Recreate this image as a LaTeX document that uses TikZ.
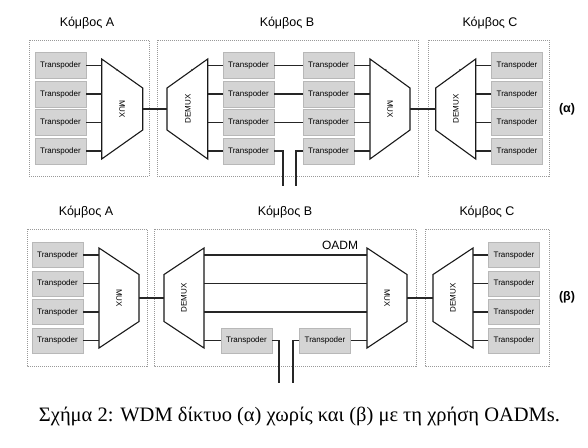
\documentclass[tikz,border=0pt]{standalone}
\usepackage{fontspec}
\setmainfont{Liberation Sans}
\newfontfamily\capfont{Liberation Serif}
\begin{document}
\begin{tikzpicture}[x=1pt,y=-1pt,
  tp/.style={draw=black!28, fill=black!17, line width=0.6pt, minimum width=51pt, minimum height=26pt, inner sep=0pt, font=\fontsize{8}{9}\selectfont},
  tpb/.style={tp, minimum height=25pt},
  nodebox/.style={draw=black!40, line width=0.5pt, dash pattern=on 1pt off 1pt},
  wire/.style={line width=1.3pt, black!85},
  trap/.style={line width=1.1pt, black!90},
  ttl/.style={font=\fontsize{12.5}{14}\selectfont},
  lbl/.style={font=\fontsize{8}{9}\selectfont},
  tick/.style={fill=black!80, radius=1pt},
]
\useasboundingbox (0,0) rectangle (588,447);

% ================= panel (alpha) =================
\draw[nodebox] (29,40) rectangle (149,176);
\draw[nodebox] (157,40) rectangle (418,176);
\draw[nodebox] (428,40) rectangle (549,176);
\node[ttl] (tA) at (87,23) {Κόμβος A};
\node[ttl] (tB) at (287,23) {Κόμβος B};
\node[ttl] (tC) at (490,23) {Κόμβος C};
\node[font=\bfseries\fontsize{12.5}{14}\selectfont] (alpha) at (567,109) {(α)};

% transponders
\foreach \i/\y in {1/65.5,2/94,3/122.5,4/151}{
  \node[tp] (a\i) at (60.5,\y) {Transpoder};
  \node[tp] (b\i) at (248.5,\y) {Transpoder};
  \node[tp] (c\i) at (328.5,\y) {Transpoder};
  \node[tp] (d\i) at (517,\y) {Transpoder};
}

% MUX A
\draw[trap] (101.7,59) -- (142.7,88) -- (142.7,130) -- (101.7,159) -- cycle;
\coordinate (muxA-l) at (101.7,109); \coordinate (muxA-r) at (142.7,109);
\node[lbl, rotate=-90] (muxAt) at (122,109) {MUX};
\fill[tick] (117,69.8) circle;
% DEMUX B
\draw[trap] (167,88) -- (207.7,59) -- (207.7,159) -- (167,130) -- cycle;
\coordinate (demB-l) at (167,109); \coordinate (demB-r) at (207.7,109);
\node[lbl, rotate=90] (demBt) at (188,109) {DEMUX};
\fill[tick] (192,69.8) circle;
% MUX B
\draw[trap] (370,59) -- (410,88) -- (410,130) -- (370,159) -- cycle;
\coordinate (muxB-l) at (370,109); \coordinate (muxB-r) at (410,109);
\node[lbl, rotate=-90] (muxBt) at (390,109) {MUX};
\fill[tick] (385.7,69.8) circle;
% DEMUX C
\draw[trap] (435.7,88) -- (475.7,59) -- (475.7,159) -- (435.7,130) -- cycle;
\coordinate (demC-l) at (435.7,109); \coordinate (demC-r) at (475.7,109);
\node[lbl, rotate=90] (demCt) at (456,109) {DEMUX};
\fill[tick] (460,69.8) circle;

% wires
\foreach \i in {1,2,3,4}{
  \draw[wire] (a\i.east) -- (a\i.east -| muxA-l);
  \draw[wire] (b\i.west) -- (b\i.west -| demB-r);
  \draw[wire] (c\i.east) -- (c\i.east -| muxB-l);
  \draw[wire] (d\i.west) -- (d\i.west -| demC-r);
}
\foreach \i in {1,2,3}{
  \draw[wire] (b\i.east) -- (c\i.west);
}
\draw[wire] (muxA-r) -- (demB-l);
\draw[wire] (muxB-r) -- (demC-l);
\coordinate (fa1) at (283,186);
\coordinate (fa2) at (296,186);
\draw[wire] (b4.east) -| (fa1);
\draw[wire] (c4.west) -| (fa2);

% ================= panel (beta) =================
\draw[nodebox] (27,229) rectangle (147,366);
\draw[nodebox] (154,229) rectangle (416,366);
\draw[nodebox] (425,229) rectangle (549,366);
\node[ttl] (uA) at (86,212) {Κόμβος A};
\node[ttl] (uB) at (285,212) {Κόμβος B};
\node[ttl] (uC) at (487,212) {Κόμβος C};
\node[font=\bfseries\fontsize{12.5}{14}\selectfont] (beta) at (567,297) {(β)};
\node[font=\fontsize{12}{14}\selectfont] (oadm) at (340,245) {OADM};

\foreach \i/\y in {1/255,2/283.5,3/312,4/340.5}{
  \node[tpb] (e\i) at (57.5,\y) {Transpoder};
  \node[tpb] (h\i) at (514,\y) {Transpoder};
}
\node[tpb] (f4) at (246.5,340.5) {Transpoder};
\node[tpb] (g4) at (325,340.5) {Transpoder};

% MUX A
\draw[trap] (99,248) -- (139,274.5) -- (139,321.5) -- (99,348) -- cycle;
\coordinate (muxE-l) at (99,298); \coordinate (muxE-r) at (139,298);
\node[lbl, rotate=-90] (muxEt) at (119,298) {MUX};
% DEMUX B
\draw[trap] (164,274.5) -- (204,248) -- (204,348) -- (164,321.5) -- cycle;
\coordinate (demF-l) at (164,298); \coordinate (demF-r) at (204,298);
\node[lbl, rotate=90] (demFt) at (184,298) {DEMUX};
% MUX B
\draw[trap] (367,248) -- (407,274.5) -- (407,321.5) -- (367,348) -- cycle;
\coordinate (muxG-l) at (367,298); \coordinate (muxG-r) at (407,298);
\node[lbl, rotate=-90] (muxGt) at (387,298) {MUX};
% DEMUX C
\draw[trap] (433,274.5) -- (473,248) -- (473,348) -- (433,321.5) -- cycle;
\coordinate (demH-l) at (433,298); \coordinate (demH-r) at (473,298);
\node[lbl, rotate=90] (demHt) at (453,298) {DEMUX};

\foreach \i in {1,2,3,4}{
  \draw[wire] (e\i.east) -- (e\i.east -| muxE-l);
  \draw[wire] (h\i.west) -- (h\i.west -| demH-r);
}
\foreach \i in {1,2,3}{
  \draw[wire] (e\i.east -| demF-r) -- (e\i.east -| muxG-l);
}
\draw[wire] (f4.west) -- (f4.west -| demF-r);
\draw[wire] (g4.east) -- (g4.east -| muxG-l);
\draw[wire] (muxE-r) -- (demF-l);
\draw[wire] (muxG-r) -- (demH-l);
\coordinate (fb1) at (279,383);
\coordinate (fb2) at (293,383);
\draw[wire] (f4.east) -| (fb1);
\draw[wire] (g4.west) -| (fb2);

% caption
\node[font=\capfont\fontsize{20.5}{24}\selectfont, anchor=base, inner sep=0pt] (cap) at (299.5,421.5) {Σχήμα 2: WDM δίκτυο (α) χωρίς και (β) με τη χρήση OADMs.};
\end{tikzpicture}
\end{document}
